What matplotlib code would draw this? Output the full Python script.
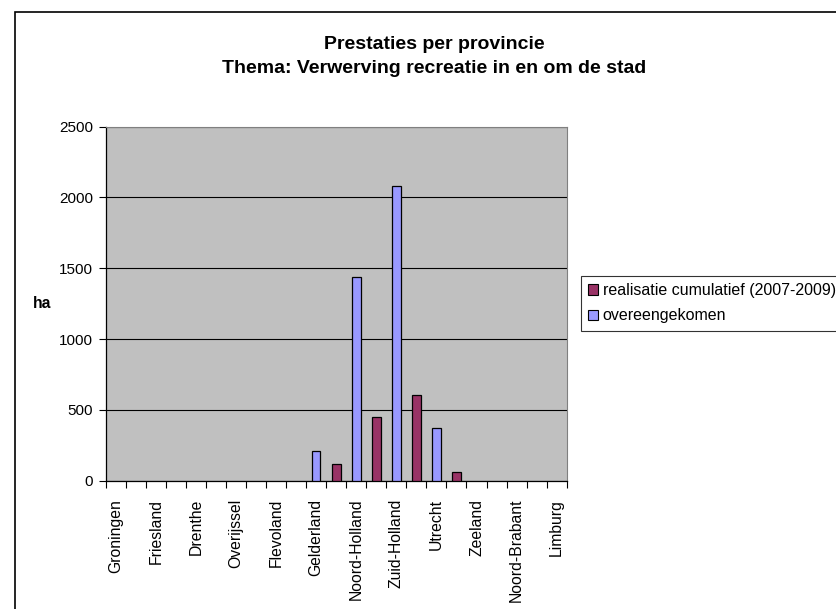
import numpy as np
import matplotlib.pyplot as plt
from matplotlib.patches import Rectangle, Patch

plt.rcParams["font.family"] = ["Liberation Sans", "DejaVu Sans"]

# 23 category slots: provinces on the even slots, unlabeled slots in between
provinces = ["Groningen", "Friesland", "Drenthe", "Overijssel", "Flevoland",
             "Gelderland", "Noord-Holland", "Zuid-Holland", "Utrecht",
             "Zeeland", "Noord-Brabant", "Limburg"]
overeengekomen = [0, 0, 0, 0, 0, 0, 0, 0, 0, 0, 210, 0,
                  1440, 0, 2080, 0, 370, 0, 0, 0, 0, 0, 0]
realisatie = [0, 0, 0, 0, 0, 0, 0, 0, 0, 0, 0, 115,
              0, 450, 0, 605, 0, 62, 0, 0, 0, 0, 0]
yticks = [0, 500, 1000, 1500, 2000, 2500]

BLUE = "#9999FF"
MAROON = "#993366"

fig = plt.figure(figsize=(8.36, 6.09), dpi=100)
ax = fig.add_axes([0.1264, 0.2107, 0.5515, 0.5813])

x = np.arange(len(overeengekomen))
ov = np.array(overeengekomen, dtype=float)
re = np.array(realisatie, dtype=float)
ax.bar(x[ov > 0], ov[ov > 0], width=0.43, color=BLUE, edgecolor="black", linewidth=0.9, zorder=3)
ax.bar(x[re > 0], re[re > 0], width=0.43, color=MAROON, edgecolor="black", linewidth=0.9, zorder=3)

ax.set_facecolor("#C0C0C0")
ax.set_xlim(-0.5, len(x) - 0.5)
ax.set_ylim(0, 2500)
ax.set_yticks(yticks)
ax.tick_params(axis="y", labelsize=11, length=5, width=0.8, direction="out", pad=4)
ax.yaxis.grid(True, color="black", linewidth=0.8, zorder=1)

# ticks at category boundaries, labels on even slots
ax.set_xticks(np.arange(-0.5, len(x), 1.0))
ax.set_xticklabels([])
ax.tick_params(axis="x", which="major", length=5, width=0.8, direction="out")
ax.set_xticks(np.arange(0, len(x), 2), minor=True)
ax.set_xticklabels(provinces, minor=True, rotation=90, fontsize=11.3)
ax.tick_params(axis="x", which="minor", length=0, pad=13)

for s in ["top", "right"]:
    ax.spines[s].set_color("#808080")
    ax.spines[s].set_linewidth(0.8)
for s in ["left", "bottom"]:
    ax.spines[s].set_color("black")
    ax.spines[s].set_linewidth(0.9)

fig.text(0.050, 0.502, "ha", fontsize=11.3, fontweight="bold", ha="center", va="center")
fig.text(0.519, 0.927, "Prestaties per provincie", fontsize=14, fontweight="bold",
         ha="center", va="center")
fig.text(0.519, 0.888, "Thema: Verwerving recreatie in en om de stad", fontsize=14,
         fontweight="bold", ha="center", va="center")

handles = [Patch(facecolor=MAROON, edgecolor="black", linewidth=0.8),
           Patch(facecolor=BLUE, edgecolor="black", linewidth=0.8)]
leg = fig.legend(handles, ["realisatie cumulatief (2007-2009)", "overeengekomen"],
                 loc="upper left", bbox_to_anchor=(0.695, 0.547), fontsize=11.5,
                 frameon=True, fancybox=False, borderaxespad=0, handlelength=0.6,
                 handleheight=0.6, handletextpad=0.3, labelspacing=0.65,
                 borderpad=0.45)
leg.get_frame().set_edgecolor("black")
leg.get_frame().set_linewidth(0.8)

# outer chart border, running off the right and bottom edges
fig.patches.append(Rectangle((0.0185, -0.1), 1.2, 1.081, transform=fig.transFigure,
                             fill=False, edgecolor="black", linewidth=1.2))

fig.savefig("out.png", dpi=100)
